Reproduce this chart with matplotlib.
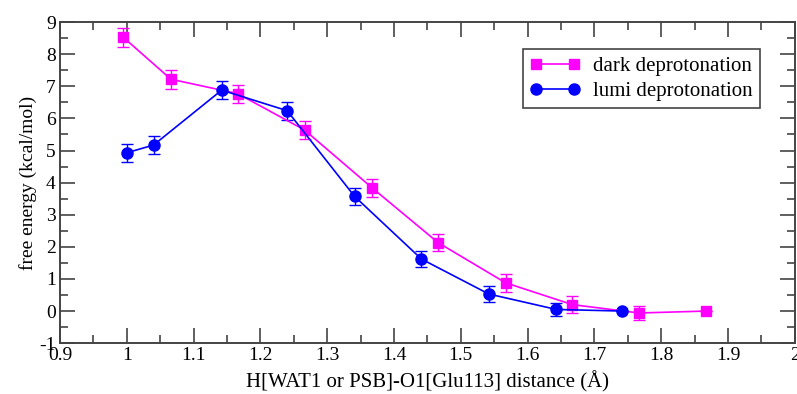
import matplotlib.pyplot as plt
from matplotlib.ticker import MultipleLocator

plt.rcParams['font.family'] = ['Liberation Serif', 'DejaVu Serif']
plt.rcParams['axes.unicode_minus'] = False

# dark deprotonation (magenta squares)
dark_x = [0.995, 1.066, 1.166, 1.266, 1.367, 1.466, 1.567, 1.667, 1.767, 1.867]
dark_y = [8.52, 7.22, 6.77, 5.64, 3.84, 2.13, 0.88, 0.20, -0.06, 0.0]
dark_err = [0.30, 0.30, 0.28, 0.28, 0.28, 0.27, 0.28, 0.26, 0.22, 0.0]

# lumi deprotonation (blue circles)
lumi_x = [1.0, 1.04, 1.142, 1.24, 1.341, 1.441, 1.542, 1.643, 1.742]
lumi_y = [4.93, 5.17, 6.88, 6.24, 3.57, 1.62, 0.53, 0.05, 0.0]
lumi_err = [0.28, 0.28, 0.28, 0.28, 0.26, 0.25, 0.24, 0.2, 0.0]

fig = plt.figure(figsize=(7.97, 3.94), dpi=100)
ax = fig.add_axes([0.0753, 0.129, 0.922, 0.815])

# error bars first, lines + markers on top
ax.errorbar(dark_x, dark_y, yerr=dark_err, fmt='none', ecolor='#ff00ff',
            capsize=4.5, elinewidth=1.0, capthick=1.0)
ax.errorbar(lumi_x, lumi_y, yerr=lumi_err, fmt='none', ecolor='#0000ff',
            capsize=4.5, elinewidth=1.0, capthick=1.0)
ax.plot(dark_x, dark_y, color='#ff00ff', marker='s', markersize=6.5,
        linewidth=1.2, label='dark deprotonation')
ax.plot(lumi_x, lumi_y, color='#0000ff', marker='o', markersize=8,
        linewidth=1.2, label='lumi deprotonation')

ax.set_xlim(0.9, 2.0)
ax.set_ylim(-1, 9)
ax.xaxis.set_minor_locator(MultipleLocator(0.05))
ax.yaxis.set_major_locator(MultipleLocator(1))
ax.yaxis.set_minor_locator(MultipleLocator(0.5))
ax.set_xticks([0.9, 1.0, 1.1, 1.2, 1.3, 1.4, 1.5, 1.6, 1.7, 1.8, 1.9, 2.0])
ax.set_xticklabels(['0.9', '1', '1.1', '1.2', '1.3', '1.4', '1.5', '1.6',
                    '1.7', '1.8', '1.9', '2'])
ax.tick_params(which='both', direction='in', top=True, right=True,
               labelsize=14, color='#444444')
ax.tick_params(which='major', length=11, width=1.2, pad=3)
ax.tick_params(which='minor', length=6, width=1.2)
for s in ax.spines.values():
    s.set_linewidth(1.4)
    s.set_color('#444444')

ax.set_xlabel('H[WAT1 or PSB]-O1[Glu113] distance (Å)', fontsize=15, labelpad=5)
ax.set_ylabel('free energy (kcal/mol)', fontsize=14, labelpad=2)

leg = ax.legend(loc='upper right', bbox_to_anchor=(0.952, 0.915), fontsize=15,
                fancybox=False, framealpha=1, edgecolor='#444444',
                numpoints=2, handlelength=2.4, borderpad=0.35,
                labelspacing=0.25, handletextpad=0.6, borderaxespad=0)
leg.get_frame().set_linewidth(1.2)

plt.savefig('out.png')
